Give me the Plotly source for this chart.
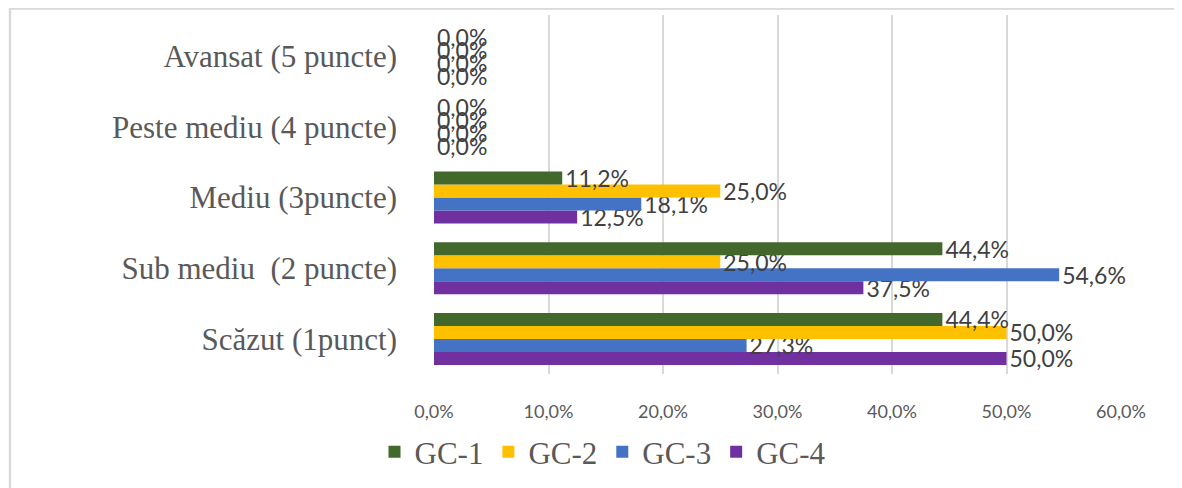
import plotly.graph_objects as go

categories = ["Scăzut (1punct)", "Sub mediu  (2 puncte)", "Mediu (3puncte)",
              "Peste mediu (4 puncte)", "Avansat (5 puncte)"]
series_names = ["GC-1", "GC-2", "GC-3", "GC-4"]
gc1 = [44.4, 44.4, 11.2, 0.0, 0.0]
gc2 = [50.0, 25.0, 25.0, 0.0, 0.0]
gc3 = [27.3, 54.6, 18.1, 0.0, 0.0]
gc4 = [50.0, 37.5, 12.5, 0.0, 0.0]
colors = ["#43682B", "#FFC000", "#4472C4", "#7030A0"]
x_ticks = [0, 10, 20, 30, 40, 50, 60]
x_tick_labels = ["0,0%", "10,0%", "20,0%", "30,0%", "40,0%", "50,0%", "60,0%"]

values = [gc1, gc2, gc3, gc4]


def fmt(v):
    return f"{v:.1f}".replace(".", ",") + "%"


fig = go.Figure()
# add in reverse so GC-1 sits on top of each group
for name, vals, col in reversed(list(zip(series_names, values, colors))):
    fig.add_trace(go.Bar(
        y=categories, x=vals, name=name, orientation="h",
        marker=dict(color=col, line=dict(width=0)),
        text=[fmt(v) for v in vals], textposition="outside",
        constraintext="none", cliponaxis=False,
        textfont=dict(family="Lato", size=23, color="#404040"),
        hoverinfo="skip",
    ))

OFF = 8  # page body margin
W, H = 1182 - OFF, 488 - OFF
L = 434 - OFF
R = W - (1121 - OFF)
T = 15 - OFF
B = H - (374 - OFF)
pw, ph = W - L - R, H - T - B


def px_x(p):
    return (p - OFF - L) / pw


def px_y(p):
    return (H - B - (p - OFF)) / ph


fig.update_layout(
    width=W, height=H,
    margin=dict(l=L, r=R, t=T, b=B, pad=0),
    paper_bgcolor="white", plot_bgcolor="white",
    barmode="group", bargap=0.265, bargroupgap=0,
    showlegend=True,
    legend=dict(orientation="h", traceorder="reversed",
                x=px_x(603), xanchor="center", y=px_y(452), yanchor="middle",
                font=dict(family="Liberation Serif", size=31, color="#595959"),
                itemwidth=30, bgcolor="rgba(0,0,0,0)"),
    xaxis=dict(range=[0, 60], tickvals=x_ticks, ticktext=x_tick_labels,
               showgrid=True, gridcolor="#D9D9D9", gridwidth=1.5,
               zeroline=False, showline=False, ticks="",
               ticklabelstandoff=25,
               tickfont=dict(family="Lato", size=18, color="#595959")),
    yaxis=dict(type="category", categoryorder="array", categoryarray=categories,
               range=[-0.495, 4.58], showgrid=False, zeroline=False,
               showline=False, ticks="", ticklabelstandoff=36,
               tickfont=dict(family="Liberation Serif", size=31, color="#595959")),
    shapes=[dict(type="rect", xref="paper", yref="paper",
                 x0=px_x(10), x1=px_x(1200), y0=px_y(8.5), y1=px_y(600),
                 line=dict(color="#D9D9D9", width=2.5), fillcolor="rgba(0,0,0,0)",
                 layer="below")],
)

fig.write_html("out.html")
